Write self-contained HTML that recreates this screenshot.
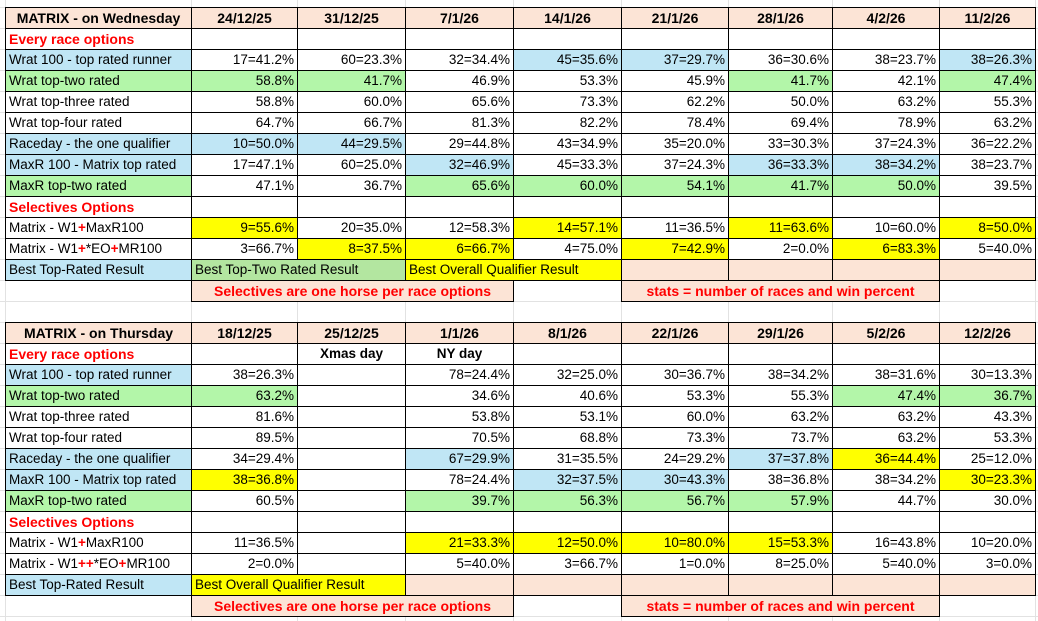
<!DOCTYPE html>
<html><head><meta charset="utf-8"><style>
html,body{margin:0;padding:0}
body{width:1038px;height:621px;position:relative;overflow:hidden;background:#fff;
background-image:repeating-linear-gradient(to bottom,#e2e2e2 0 1px,transparent 1px 21px);background-position:0 7px;
font-family:"Liberation Sans",sans-serif;font-size:13.5px;color:#000}
.vl{position:absolute;top:0;height:621px;width:1px;background:#e2e2e2}
table{position:absolute;left:5px;border-collapse:collapse;table-layout:fixed}
td{height:20px;padding:0 3px;border:1px solid #000;white-space:nowrap;overflow:visible;text-align:right;line-height:20px;background:#fff}
td.l{text-align:left}
td.c{text-align:center}
.h td{background:#fce4d6;font-weight:bold;text-align:center;font-size:14px}
td.t{color:#f00;font-weight:bold;text-align:left;font-size:14px}
.b{background:#c0e6f5}.g{background:#b3f6a9}.y{background:#ffff00}.p{background:#fce4d6}
.gg{background:#b3e6a0}
td.n{border:none;background:transparent}
td.note{background:#fce4d6;color:#f00;font-weight:bold;text-align:center;font-size:14px}
.r{color:#f00;font-weight:bold}
td.bd{font-weight:bold;text-align:center}
</style></head><body>
<div class="vl" style="left:5px"></div><div class="vl" style="left:191px"></div><div class="vl" style="left:297px"></div><div class="vl" style="left:405px"></div><div class="vl" style="left:513px"></div><div class="vl" style="left:621px"></div><div class="vl" style="left:728px"></div><div class="vl" style="left:832px"></div><div class="vl" style="left:939px"></div><div class="vl" style="left:1035px"></div>

<table style="top:7px">
<colgroup><col style="width:186px"><col style="width:106px"><col style="width:108px"><col style="width:108px"><col style="width:108px"><col style="width:107px"><col style="width:104px"><col style="width:107px"><col style="width:96px"></colgroup>
<tr class="h"><td>MATRIX - on Wednesday</td><td>24/12/25</td><td>31/12/25</td><td>7/1/26</td><td>14/1/26</td><td>21/1/26</td><td>28/1/26</td><td>4/2/26</td><td>11/2/26</td></tr>
<tr><td class="t">Every race options</td><td></td><td></td><td></td><td></td><td></td><td></td><td></td><td></td></tr>
<tr><td class="l b">Wrat 100 - top rated runner</td><td>17=41.2%</td><td>60=23.3%</td><td>32=34.4%</td><td class="b">45=35.6%</td><td class="b">37=29.7%</td><td>36=30.6%</td><td>38=23.7%</td><td class="b">38=26.3%</td></tr>
<tr><td class="l g">Wrat top-two rated</td><td class="g">58.8%</td><td class="g">41.7%</td><td>46.9%</td><td>53.3%</td><td>45.9%</td><td class="g">41.7%</td><td>42.1%</td><td class="g">47.4%</td></tr>
<tr><td class="l">Wrat top-three rated</td><td>58.8%</td><td>60.0%</td><td>65.6%</td><td>73.3%</td><td>62.2%</td><td>50.0%</td><td>63.2%</td><td>55.3%</td></tr>
<tr><td class="l">Wrat top-four rated</td><td>64.7%</td><td>66.7%</td><td>81.3%</td><td>82.2%</td><td>78.4%</td><td>69.4%</td><td>78.9%</td><td>63.2%</td></tr>
<tr><td class="l b">Raceday - the one qualifier</td><td class="b">10=50.0%</td><td class="b">44=29.5%</td><td>29=44.8%</td><td>43=34.9%</td><td>35=20.0%</td><td>33=30.3%</td><td>37=24.3%</td><td>36=22.2%</td></tr>
<tr><td class="l b">MaxR 100 - Matrix top rated</td><td>17=47.1%</td><td>60=25.0%</td><td class="b">32=46.9%</td><td>45=33.3%</td><td>37=24.3%</td><td class="b">36=33.3%</td><td class="b">38=34.2%</td><td>38=23.7%</td></tr>
<tr><td class="l g">MaxR top-two rated</td><td>47.1%</td><td>36.7%</td><td class="g">65.6%</td><td class="g">60.0%</td><td class="g">54.1%</td><td class="g">41.7%</td><td class="g">50.0%</td><td>39.5%</td></tr>
<tr><td class="t">Selectives Options</td><td></td><td></td><td></td><td></td><td></td><td></td><td></td><td></td></tr>
<tr><td class="l">Matrix - W1<span class="r">+</span>MaxR100</td><td class="y">9=55.6%</td><td>20=35.0%</td><td>12=58.3%</td><td class="y">14=57.1%</td><td>11=36.5%</td><td class="y">11=63.6%</td><td>10=60.0%</td><td class="y">8=50.0%</td></tr>
<tr><td class="l">Matrix - W1<span class="r">+</span>*EO<span class="r">+</span>MR100</td><td>3=66.7%</td><td class="y">8=37.5%</td><td class="y">6=66.7%</td><td>4=75.0%</td><td class="y">7=42.9%</td><td>2=0.0%</td><td class="y">6=83.3%</td><td>5=40.0%</td></tr>
<tr><td class="l b">Best Top-Rated Result</td><td class="l gg" colspan="2">Best Top-Two Rated Result</td><td class="l y" colspan="2">Best Overall Qualifier Result</td><td class="p"></td><td class="p"></td><td class="p"></td><td class="p"></td></tr>
<tr><td class="n"></td><td class="note" colspan="3">Selectives are one horse per race options</td><td class="n"></td><td class="note" colspan="3">stats = number of races and win percent</td><td class="n"></td></tr>
</table>

<table style="top:322px">
<colgroup><col style="width:186px"><col style="width:106px"><col style="width:108px"><col style="width:108px"><col style="width:108px"><col style="width:107px"><col style="width:104px"><col style="width:107px"><col style="width:96px"></colgroup>
<tr class="h"><td>MATRIX - on Thursday</td><td>18/12/25</td><td>25/12/25</td><td>1/1/26</td><td>8/1/26</td><td>22/1/26</td><td>29/1/26</td><td>5/2/26</td><td>12/2/26</td></tr>
<tr><td class="t">Every race options</td><td></td><td class="bd">Xmas day</td><td class="bd">NY day</td><td></td><td></td><td></td><td></td><td></td></tr>
<tr><td class="l b">Wrat 100 - top rated runner</td><td>38=26.3%</td><td></td><td>78=24.4%</td><td>32=25.0%</td><td>30=36.7%</td><td>38=34.2%</td><td>38=31.6%</td><td>30=13.3%</td></tr>
<tr><td class="l g">Wrat top-two rated</td><td class="g">63.2%</td><td></td><td>34.6%</td><td>40.6%</td><td>53.3%</td><td>55.3%</td><td class="g">47.4%</td><td class="g">36.7%</td></tr>
<tr><td class="l">Wrat top-three rated</td><td>81.6%</td><td></td><td>53.8%</td><td>53.1%</td><td>60.0%</td><td>63.2%</td><td>63.2%</td><td>43.3%</td></tr>
<tr><td class="l">Wrat top-four rated</td><td>89.5%</td><td></td><td>70.5%</td><td>68.8%</td><td>73.3%</td><td>73.7%</td><td>63.2%</td><td>53.3%</td></tr>
<tr><td class="l b">Raceday - the one qualifier</td><td>34=29.4%</td><td></td><td class="b">67=29.9%</td><td>31=35.5%</td><td>24=29.2%</td><td class="b">37=37.8%</td><td class="y">36=44.4%</td><td>25=12.0%</td></tr>
<tr><td class="l b">MaxR 100 - Matrix top rated</td><td class="y">38=36.8%</td><td></td><td>78=24.4%</td><td class="b">32=37.5%</td><td class="b">30=43.3%</td><td>38=36.8%</td><td>38=34.2%</td><td class="y">30=23.3%</td></tr>
<tr><td class="l g">MaxR top-two rated</td><td>60.5%</td><td></td><td class="g">39.7%</td><td class="g">56.3%</td><td class="g">56.7%</td><td class="g">57.9%</td><td>44.7%</td><td>30.0%</td></tr>
<tr><td class="t">Selectives Options</td><td></td><td></td><td></td><td></td><td></td><td></td><td></td><td></td></tr>
<tr><td class="l">Matrix - W1<span class="r">+</span>MaxR100</td><td>11=36.5%</td><td></td><td class="y">21=33.3%</td><td class="y">12=50.0%</td><td class="y">10=80.0%</td><td class="y">15=53.3%</td><td>16=43.8%</td><td>10=20.0%</td></tr>
<tr><td class="l">Matrix - W1<span class="r">+</span><span class="r">+</span>*EO<span class="r">+</span>MR100</td><td>2=0.0%</td><td></td><td>5=40.0%</td><td>3=66.7%</td><td>1=0.0%</td><td>8=25.0%</td><td>5=40.0%</td><td>3=0.0%</td></tr>
<tr><td class="l b">Best Top-Rated Result</td><td class="l y" colspan="2">Best Overall Qualifier Result</td><td class="p"></td><td class="p"></td><td class="p"></td><td class="p"></td><td class="p"></td><td class="p"></td></tr>
<tr><td class="n"></td><td class="note" colspan="3">Selectives are one horse per race options</td><td class="n"></td><td class="note" colspan="3">stats = number of races and win percent</td><td class="n"></td></tr>
</table>
</body></html>
